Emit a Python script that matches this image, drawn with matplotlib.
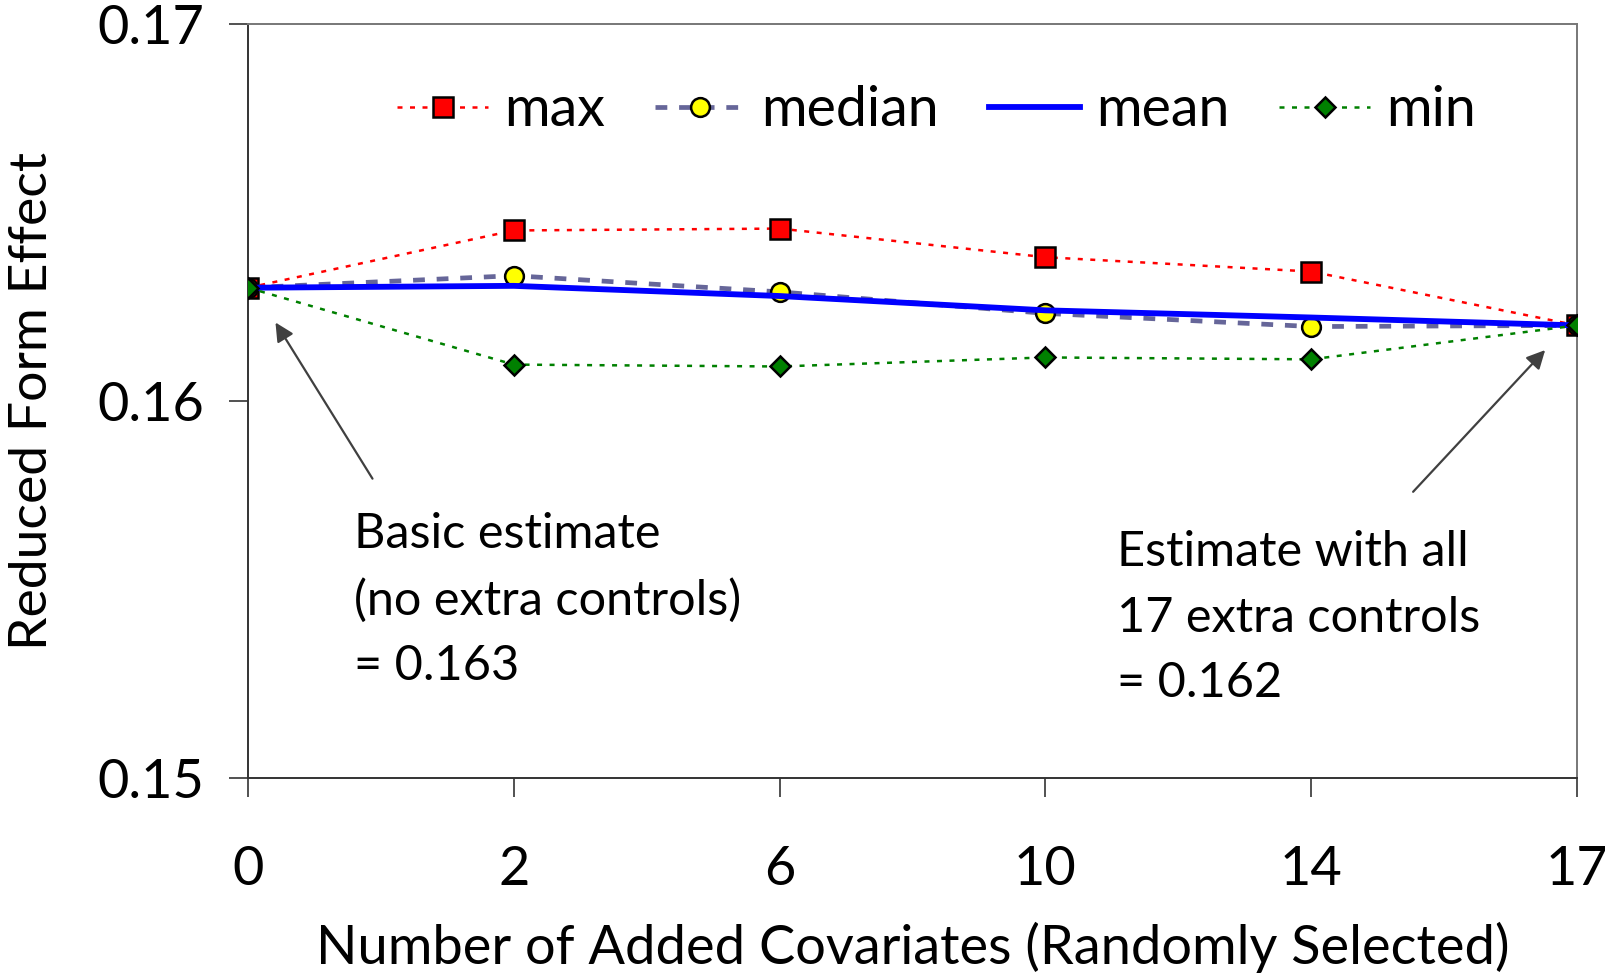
import matplotlib.pyplot as plt

plt.rcParams['font.family'] = ['Lato', 'DejaVu Sans']

# data
n_covariates = ['0', '2', '6', '10', '14', '17']
max_vals = [0.1630, 0.16452, 0.16457, 0.16381, 0.16343, 0.1620]
median_vals = [0.1630, 0.16332, 0.16289, 0.16232, 0.16197, 0.1620]
mean_vals = [0.1630, 0.16305, 0.16278, 0.16240, 0.16221, 0.1620]
min_vals = [0.1630, 0.16096, 0.16091, 0.16115, 0.16110, 0.1620]

x = range(len(n_covariates))

fig = plt.figure(figsize=(16.06, 9.75), dpi=100)
ax = fig.add_axes([0.1544, 0.2025, 0.8276, 0.7729])

ax.plot(x, max_vals, color='red', lw=1.8, ls=(0, (2, 3)), marker='s', ms=14,
        mfc='red', mec='black', mew=1.8, label='max', zorder=3)
ax.plot(x, median_vals, color='#666699', lw=3.4, ls=(0, (2.5, 2.5)), marker='o', ms=13.5,
        mfc='yellow', mec='black', mew=1.8, label='median', zorder=4)
ax.plot(x, mean_vals, color='#0000ff', lw=4.2, ls='-', label='mean', zorder=5)
ax.plot(x, min_vals, color='green', lw=1.8, ls=(0, (2, 3)), marker='D', ms=10.5,
        mfc='green', mec='black', mew=1.8, label='min', zorder=6)

ax.set_xlim(0, len(n_covariates) - 1)
ax.set_ylim(0.15, 0.17)
ax.set_xticks(list(x))
ax.set_xticklabels(n_covariates)
ax.set_yticks([0.15, 0.16, 0.17])
ax.set_yticklabels(['0.15', '0.16', '0.17'])

for s in ['left', 'bottom']:
    ax.spines[s].set_color('#333333')
    ax.spines[s].set_linewidth(1.4)
for s in ['top', 'right']:
    ax.spines[s].set_color('#777777')
    ax.spines[s].set_linewidth(1.4)

ax.tick_params(axis='both', direction='out', length=13.5, width=1.2, color='#333333',
               labelsize=39)
ax.tick_params(axis='x', pad=35)
ax.tick_params(axis='y', pad=18)

ax.set_xlabel('Number of Added Covariates (Randomly Selected)', fontsize=39, labelpad=20)
ax.set_ylabel('Reduced Form Effect', fontsize=38.5, labelpad=30)

ax.legend(loc='upper center', bbox_to_anchor=(0.518, 0.985), ncol=4, frameon=False,
          fontsize=40, handlelength=1.64, columnspacing=0.9, handletextpad=0.28)

# annotations
ax.annotate('', xy=(0.098, 0.16214), xytext=(0.474, 0.15787),
            arrowprops=dict(arrowstyle='-|>', color='#404040', lw=1.6, mutation_scale=28))
ax.annotate('', xy=(4.887, 0.1614), xytext=(4.376, 0.15753),
            arrowprops=dict(arrowstyle='-|>', color='#404040', lw=1.6, mutation_scale=28))

ax.text(0.399, 0.15705, 'Basic estimate\n(no extra controls)\n= 0.163', fontsize=35,
        va='top', ha='left', linespacing=1.6)
ax.text(3.27, 0.15657, 'Estimate with all\n17 extra controls\n= 0.162', fontsize=35,
        va='top', ha='left', linespacing=1.6)

fig.savefig('out.png', dpi=100)
